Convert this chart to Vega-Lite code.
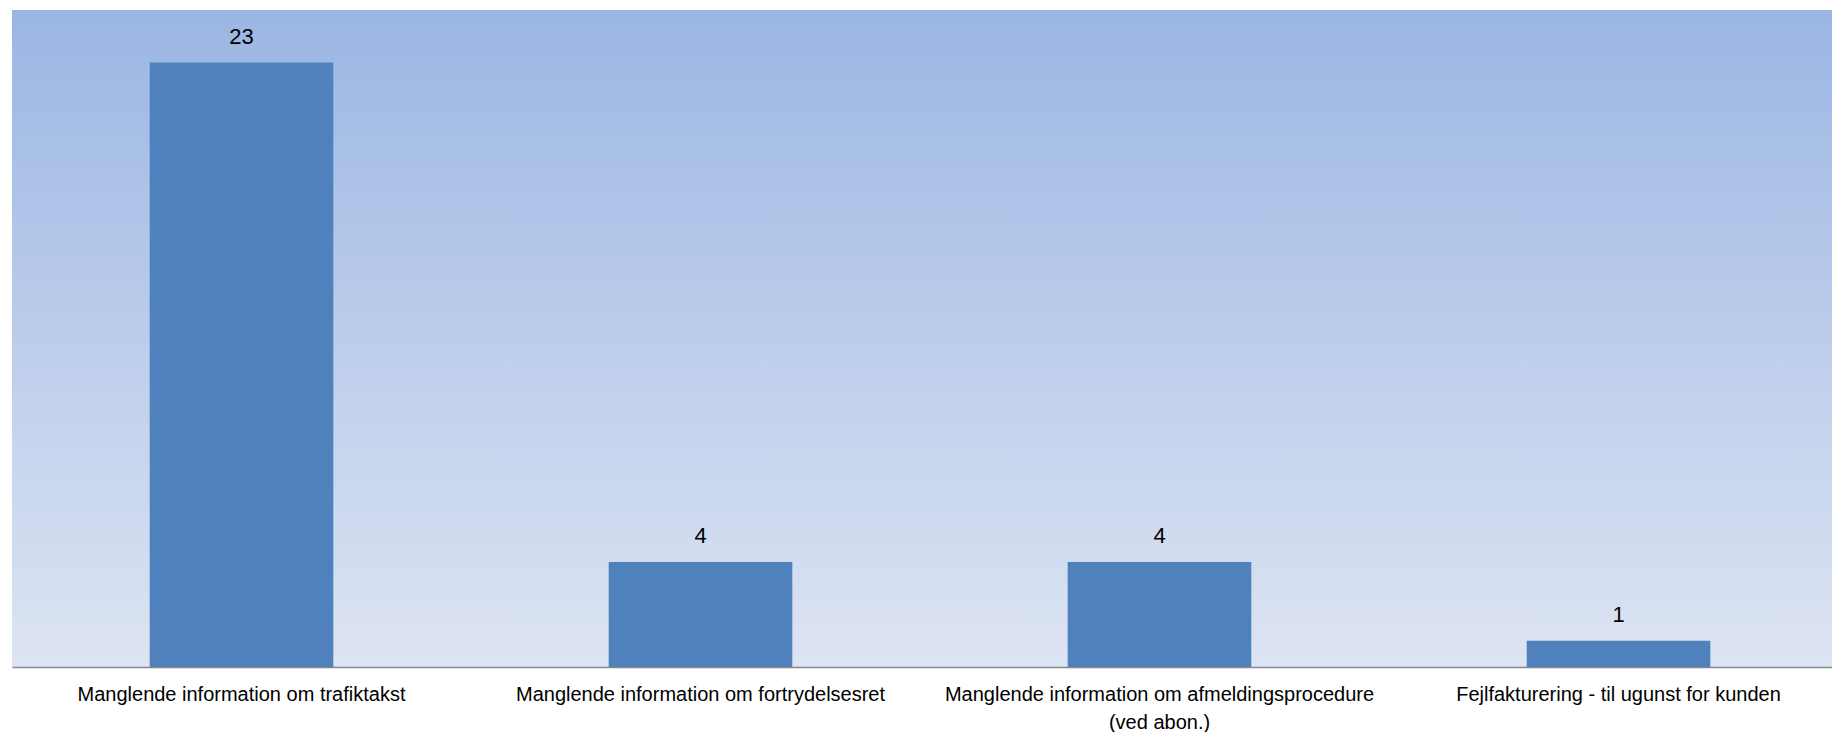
{
  "$schema": "https://vega.github.io/schema/vega-lite/v6.json",
  "width": 1836,
  "height": 657,
  "padding": {"left": 12, "top": 10, "right": 0, "bottom": 0},
  "background": "white",
  "config": {
    "view": {
      "stroke": null,
      "fill": {
        "gradient": "linear",
        "x1": 0, "y1": 0, "x2": 0, "y2": 1,
        "stops": [
          {"offset": 0, "color": "#9BB6E3"},
          {"offset": 1, "color": "#DDE4F3"}
        ]
      }
    },
    "font": "Liberation Sans"
  },
  "data": {
    "values": [
      {"kategori": "Manglende information om trafiktakst", "antal": 23},
      {"kategori": "Manglende information om fortrydelsesret", "antal": 4},
      {"kategori": "Manglende information om afmeldingsprocedure (ved abon.)", "antal": 4},
      {"kategori": "Fejlfakturering - til ugunst for kunden", "antal": 1}
    ]
  },
  "encoding": {
    "x": {
      "field": "kategori",
      "type": "nominal",
      "sort": null,
      "scale": {"paddingInner": 0.6, "paddingOuter": 0.3},
      "axis": {
        "title": null,
        "labelAngle": 0,
        "ticks": false,
        "domainColor": "#888888",
        "domainWidth": 1.5,
        "labelColor": "#000000",
        "labelFont": "Liberation Sans",
        "labelFontSize": 20,
        "labelPadding": 17,
        "labelLimit": 700,
        "labelLineHeight": 28,
        "labelBaseline": "top",
        "labelExpr": "indexof(datum.value, ' (') > 0 ? [slice(datum.value, 0, indexof(datum.value, ' (')), slice(datum.value, indexof(datum.value, ' (') + 1)] : datum.value"
      }
    },
    "y": {
      "field": "antal",
      "type": "quantitative",
      "scale": {"domain": [0, 25], "nice": false},
      "axis": null
    }
  },
  "layer": [
    {"mark": {"type": "bar", "color": "#4F81BD"}},
    {
      "mark": {"type": "text", "baseline": "alphabetic", "dy": -19, "fontSize": 22, "color": "#000000", "font": "Liberation Sans"},
      "encoding": {"text": {"field": "antal", "type": "quantitative"}}
    }
  ]
}
